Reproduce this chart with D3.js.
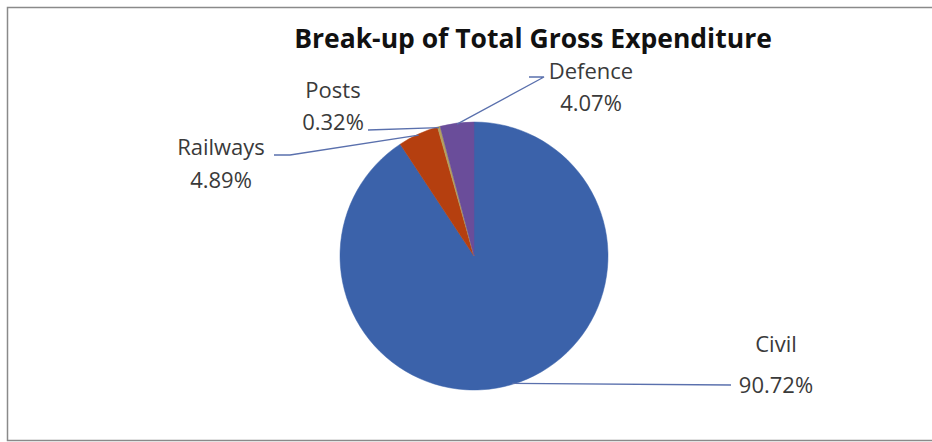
<!DOCTYPE html>
<html>
<head>
<meta charset="utf-8">
<script src="https://cdn.jsdelivr.net/npm/d3@7"></script>
<style>
  html, body { margin: 0; padding: 0; background: #fff; }
  svg { display: block; }
  text { font-family: "Open Sans", "Liberation Sans", sans-serif; fill: #3a3a3a; }
</style>
</head>
<body>
<svg id="chart" width="932" height="442"></svg>
<script>
// Expenditure shares (percent of total gross expenditure)
const categories = ["Civil", "Railways", "Posts", "Defence"];
const shares = [90.72, 4.89, 0.32, 4.07];
const colors = ["#3b62aa", "#b53f0f", "#b3a15e", "#6a4d9a"];
const titleText = "Break-up of Total Gross Expenditure";

// Label anchor points (text centre x, first baseline y) and leader-line knees
const labelLayout = {
  Civil:    { x: 776, y: 352, gap: 41, line: [[731, 385]] },
  Railways: { x: 221, y: 155, gap: 33, line: [[274, 155], [290, 155]] },
  Posts:    { x: 333, y: 98,  gap: 32, line: [[368, 130]] },
  Defence:  { x: 591, y: 79,  gap: 32, line: [[529, 77], [544, 77]] }
};

const svg = d3.select("#chart");
const W = 932;

// Chart frame
svg.append("rect")
  .attr("x", 7.5).attr("y", 7.5)
  .attr("width", W + 10).attr("height", 433)
  .attr("fill", "#fff")
  .attr("stroke", "#8a8a8a")
  .attr("stroke-width", 1.5);

// Title
svg.append("text")
  .attr("x", 533).attr("y", 48)
  .attr("text-anchor", "middle")
  .style("font-weight", "bold")
  .style("font-size", "26.5px")
  .style("fill", "#111")
  .text(titleText);

const cx = 474, cy = 256, r = 134;
const data = categories.map((c, i) => ({ name: c, value: shares[i], color: colors[i] }));

const pie = d3.pie().value(d => d.value).sort(null);
const arcs = pie(data);
const arc = d3.arc().innerRadius(0).outerRadius(r);

const g = svg.append("g").attr("transform", `translate(${cx},${cy})`);

g.selectAll("path.slice")
  .data(arcs)
  .join("path")
  .attr("class", "slice")
  .attr("d", arc)
  .attr("fill", d => d.data.color)
  .attr("stroke", d => d.data.color)
  .attr("stroke-width", 0.5);

// Leader lines from each slice's rim to its label
const line = d3.line();
arcs.forEach(a => {
  const mid = (a.startAngle + a.endAngle) / 2;
  const px = cx + (r - 1) * Math.sin(mid);
  const py = cy - (r - 1) * Math.cos(mid);
  const pts = [[px, py]].concat(labelLayout[a.data.name].line.slice().reverse());
  svg.append("path")
    .attr("d", line(pts))
    .attr("fill", "none")
    .attr("stroke", "#5a70ad")
    .attr("stroke-width", 1.3);
});

// Category labels with percentages
const fmt = d3.format(".2f");
arcs.forEach(a => {
  const L = labelLayout[a.data.name];
  const t = svg.append("text")
    .attr("text-anchor", "middle")
    .style("font-size", "22px");
  t.append("tspan").attr("x", L.x).attr("y", L.y).text(a.data.name);
  t.append("tspan").attr("x", L.x).attr("y", L.y + L.gap)
    .text(fmt(a.data.value) + "%");
});
</script>
</body>
</html>
